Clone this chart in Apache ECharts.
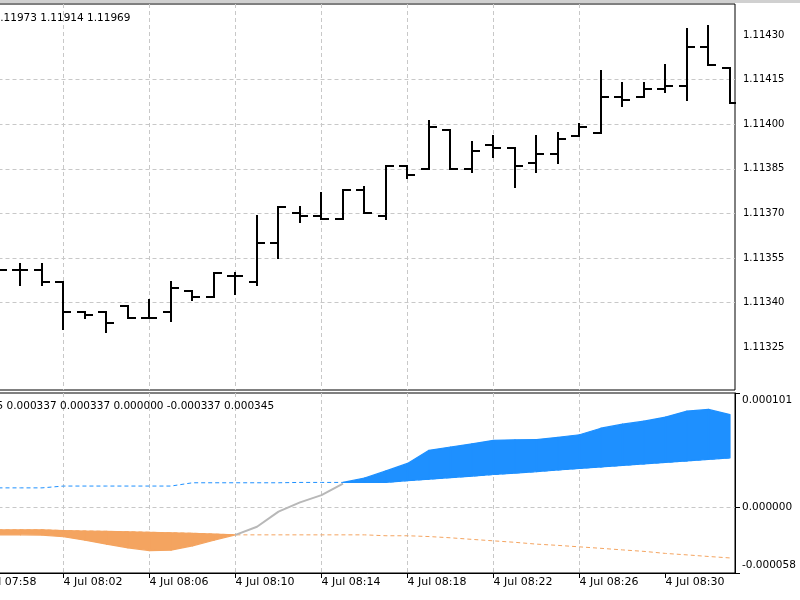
<!DOCTYPE html>
<html><head><meta charset="utf-8">
<script src="https://cdn.jsdelivr.net/npm/echarts@6/dist/echarts.min.js"></script>
<style>html,body{margin:0;padding:0;background:#fff}#c{width:800px;height:600px}</style>
</head><body><div id="c"></div>
<script>
// ---- data ----
const times = ['07:58','07:59','08:00','08:01','08:02','08:03','08:04','08:05','08:06','08:07','08:08','08:09','08:10','08:11','08:12','08:13','08:14','08:15','08:16','08:17','08:18','08:19','08:20','08:21','08:22','08:23','08:24','08:25','08:26','08:27','08:28','08:29','08:30','08:31','08:32','08:33'];
const open  = [null,1.11351,1.11351,1.11351,1.11347,1.11337,1.11337,1.11339,1.11335,1.11337,1.11344,1.11342,1.11349,1.11347,1.11360,1.11370,1.11369,1.11368,1.11378,1.11369,1.11386,1.11385,1.11398,1.11385,1.11393,1.11392,1.11387,1.11390,1.11396,1.11397,1.11409,1.11409,1.11412,1.11413,1.11426,1.11419];
const high  = [null,1.11353,1.11353,1.11353,1.11347,1.11337,1.11337,1.11339,1.11341,1.11347,1.11344,1.11350,1.11350,1.11369,1.11372,1.11372,1.11377,1.11378,1.11379,1.11386,1.11386,1.11401,1.11398,1.11394,1.11396,1.11392,1.11396,1.11397,1.11400,1.11418,1.11414,1.11414,1.11420,1.11432,1.11433,1.11419];
const low   = [null,1.11349,1.11346,1.11346,1.11331,1.11335,1.11330,1.11335,1.11335,1.11334,1.11341,1.11342,1.11343,1.11346,1.11355,1.11367,1.11368,1.11368,1.11370,1.11368,1.11382,1.11385,1.11385,1.11384,1.11389,1.11379,1.11384,1.11387,1.11396,1.11397,1.11406,1.11409,1.11411,1.11408,1.11420,1.11407];
const close = [null,1.11351,1.11351,1.11347,1.11337,1.11336,1.11333,1.11335,1.11335,1.11345,1.11342,1.11350,1.11349,1.11360,1.11372,1.11369,1.11368,1.11378,1.11370,1.11386,1.11383,1.11399,1.11385,1.11391,1.11392,1.11386,1.11390,1.11395,1.11399,1.11409,1.11408,1.11412,1.11413,1.11426,1.11420,1.11407];

const indMain  = [-0.0000242,-0.0000243,-0.0000243,-0.0000245,-0.0000260,-0.0000290,-0.0000325,-0.0000358,-0.0000382,-0.0000378,-0.0000340,-0.0000291,-0.0000243,-0.0000171,-0.0000038,0.0000044,0.0000108,0.0000210,0.0000259,0.0000322,0.0000388,0.0000504,0.0000533,0.0000561,0.0000592,0.0000597,0.0000599,0.0000619,0.0000641,0.0000699,0.0000735,0.0000761,0.0000797,0.0000850,0.0000865,0.0000819];
const indUpper = [0.0000172,0.0000172,0.0000172,0.0000172,0.0000188,0.0000188,0.0000188,0.0000188,0.0000188,0.0000188,0.0000217,0.0000217,0.0000217,0.0000217,0.0000217,0.0000220,0.0000220,0.0000220,0.0000220,0.0000221,0.0000236,0.0000249,0.0000263,0.0000276,0.0000290,0.0000303,0.0000316,0.0000330,0.0000344,0.0000357,0.0000370,0.0000384,0.0000397,0.0000410,0.0000424,0.0000437];
const indLower = [-0.0000199,-0.0000199,-0.0000199,-0.0000199,-0.0000205,-0.0000209,-0.0000212,-0.0000216,-0.0000220,-0.0000225,-0.0000229,-0.0000236,-0.0000243,-0.0000243,-0.0000243,-0.0000243,-0.0000243,-0.0000243,-0.0000243,-0.0000251,-0.0000251,-0.0000258,-0.0000269,-0.0000283,-0.0000296,-0.0000309,-0.0000325,-0.0000336,-0.0000349,-0.0000362,-0.0000376,-0.0000389,-0.0000407,-0.0000420,-0.0000434,-0.0000447];

const xTickLabels = ['4 Jul 07:58','4 Jul 08:02','4 Jul 08:06','4 Jul 08:10','4 Jul 08:14','4 Jul 08:18','4 Jul 08:22','4 Jul 08:26','4 Jul 08:30'];
const priceTicks = ['1.11325','1.11340','1.11355','1.11370','1.11385','1.11400','1.11415','1.11430'];
const indTicks = ['-0.000058','0.000000','0.000101'];
const headerValues = ['1.11973','1.11914','1.11969'];
const indHeaderValues = ['5','0.000337','0.000337','0.000000','-0.000337','0.000345'];

// ---- derived ----
const N = times.length;
const xTickPos = xTickLabels.map(s => times.indexOf(s.slice(6)));
const labelAt = {}; xTickPos.forEach((p, k) => labelAt[p] = xTickLabels[k]);
const priceVals = priceTicks.map(Number);
const indVals = indTicks.map(Number);

const ohlc = [];
for (let i = 0; i < N; i++) if (open[i] != null) ohlc.push([i, open[i], high[i], low[i], close[i]]);

const isBlue = i => indMain[i] > indUpper[i];
const isOrange = i => indMain[i] < indLower[i];
// segment polygons between level line and main line
const blueSeg = [], orSeg = [], grey = [], upperD = [], lowerD = [];
for (let i = 0; i < N - 1; i++) {
  if (isBlue(i) || isBlue(i + 1))
    blueSeg.push([i, i + 1, indUpper[i], indUpper[i + 1], Math.max(indMain[i], indUpper[i]), Math.max(indMain[i + 1], indUpper[i + 1])]);
  if (isOrange(i) || isOrange(i + 1))
    orSeg.push([i, i + 1, indLower[i], indLower[i + 1], Math.min(indMain[i], indLower[i]), Math.min(indMain[i + 1], indLower[i + 1])]);
}
for (let i = 0; i < N; i++) {
  grey.push([i, (!isBlue(i) && !isOrange(i)) ? indMain[i] : null]);
  upperD.push([i, indUpper[i]]);
  lowerD.push([i, indLower[i]]);
}

const FONT = '"DejaVu Sans", sans-serif';
const gridLine = {show: true, showMinLine: false, showMaxLine: false, lineStyle: {color: '#c8c8c8', width: 1, type: [4, 3]}};
const XMAX = 35.2326;

function fillSeries(data, color) {
  return {
    type: 'custom', xAxisIndex: 1, yAxisIndex: 1, clip: true, silent: true, z: 2, data: data,
    encode: {x: [0, 1], y: [2, 3, 4, 5]},
    renderItem: function (params, api) {
      const a = api.coord([api.value(0), api.value(2)]);
      const b = api.coord([api.value(1), api.value(3)]);
      const c = api.coord([api.value(1), api.value(5)]);
      const d = api.coord([api.value(0), api.value(4)]);
      return {type: 'polygon', shape: {points: [a, b, c, d]}, style: {fill: color, stroke: color, lineWidth: 1.2, lineJoin: 'round'}};
    }
  };
}

const chart = echarts.init(document.getElementById('c'), null, {renderer: 'canvas'});
chart.setOption({
  animation: false,
  backgroundColor: '#fff',
  grid: [
    {left: -22.5, right: 65, top: 4, bottom: 210, show: true, borderColor: '#000', borderWidth: 1, backgroundColor: 'transparent', containLabel: false, outerBoundsMode: 'none'},
    {left: -22.5, right: 65, top: 393, bottom: 27, show: true, borderColor: '#000', borderWidth: 1, backgroundColor: 'transparent', containLabel: false, outerBoundsMode: 'none'}
  ],
  xAxis: [
    {type: 'value', gridIndex: 0, min: 0, max: XMAX,
     axisLine: {show: false}, axisTick: {show: false, customValues: xTickPos}, axisLabel: {show: false, customValues: xTickPos},
     splitLine: gridLine},
    {type: 'value', gridIndex: 1, min: 0, max: XMAX,
     axisLine: {show: true, onZero: false, lineStyle: {color: '#000', width: 1}},
     axisTick: {show: true, customValues: xTickPos, length: 5, lineStyle: {color: '#000'}},
     axisLabel: {show: true, customValues: xTickPos, align: 'left', margin: 4, color: '#000', fontFamily: FONT, fontSize: 11,
                 formatter: v => labelAt[Math.round(v)] || ''},
     splitLine: gridLine}
  ],
  yAxis: [
    {type: 'value', gridIndex: 0, position: 'right', min: 1.1131064, max: 1.1144042, scale: true,
     axisLine: {show: true, lineStyle: {color: '#000', width: 1}},
     axisTick: {show: true, customValues: priceVals, length: 5, lineStyle: {color: '#000'}},
     axisLabel: {show: true, customValues: priceVals, margin: 8, color: '#000', fontFamily: FONT, fontSize: 10,
                 formatter: v => v.toFixed(5)},
     splitLine: gridLine},
    {type: 'value', gridIndex: 1, position: 'right', min: indVals[0], max: indVals[indVals.length - 1],
     axisLine: {show: true, onZero: false, lineStyle: {color: '#000', width: 1}},
     axisTick: {show: true, customValues: indVals, length: 5, lineStyle: {color: '#000'}},
     axisLabel: {show: true, customValues: indVals, margin: 7, color: '#000', fontFamily: FONT, fontSize: 10.5,
                 formatter: v => {
                   const k = indVals.findIndex(t => Math.abs(t - v) < 1e-9);
                   const s = k >= 0 ? indTicks[k] : v.toFixed(6);
                   if (k === indVals.length - 1) return '{t|' + s + '}';
                   if (k === 0) return '{b|' + s + '}';
                   return s;
                 },
                 rich: {t: {padding: [14, 0, 0, 0], fontFamily: FONT, fontSize: 10.5, color: '#000'},
                        b: {padding: [0, 0, 15, 0], fontFamily: FONT, fontSize: 10.5, color: '#000'}}},
     splitLine: gridLine}
  ],
  series: [
    {type: 'custom', xAxisIndex: 0, yAxisIndex: 0, clip: true, data: ohlc,
     dimensions: ['i', 'open', 'high', 'low', 'close'],
     encode: {x: 0, y: [1, 2, 3, 4]},
     renderItem: function (params, api) {
       const x = api.value(0);
       const pO = api.coord([x, api.value(1)]);
       const pH = api.coord([x, api.value(2)]);
       const pL = api.coord([x, api.value(3)]);
       const pC = api.coord([x, api.value(4)]);
       const cx = Math.round(pO[0]);
       const r = Math.round;
       const st = {stroke: '#000', lineWidth: 2};
       return {type: 'group', children: [
         {type: 'line', shape: {x1: cx, y1: r(pH[1]) - 1, x2: cx, y2: r(pL[1]) + 1}, style: st},
         {type: 'line', shape: {x1: cx - 8, y1: r(pO[1]), x2: cx, y2: r(pO[1])}, style: st},
         {type: 'line', shape: {x1: cx, y1: r(pC[1]), x2: cx + 8, y2: r(pC[1])}, style: st}
       ]};
     }},
    fillSeries(blueSeg, '#1e90ff'),
    fillSeries(orSeg, '#f4a460'),
    {type: 'line', xAxisIndex: 1, yAxisIndex: 1, data: upperD, symbol: 'none', silent: true, lineStyle: {color: '#1e90ff', width: 1, type: [4, 3]}, z: 3},
    {type: 'line', xAxisIndex: 1, yAxisIndex: 1, data: lowerD, symbol: 'none', silent: true, lineStyle: {color: '#f4a460', width: 1, type: [4, 3]}, z: 3},
    {type: 'line', xAxisIndex: 1, yAxisIndex: 1, data: grey, symbol: 'none', silent: true, connectNulls: false, lineStyle: {color: '#b8b8b8', width: 2}, z: 4}
  ],
  graphic: [
    {type: 'rect', shape: {x: 0, y: 0, width: 800, height: 3}, style: {fill: '#d0d0d0'}, z: 100},
    {type: 'text', z: 100, style: {x: -6.5, y: 18, text: headerValues.join(' '), font: '10.5px ' + FONT, fill: '#000', verticalAlign: 'middle'}},
    {type: 'text', z: 100, style: {x: -3.5, y: 406, text: indHeaderValues.join(' '), font: '10.5px ' + FONT, fill: '#000', verticalAlign: 'middle'}}
  ]
});
</script></body></html>
